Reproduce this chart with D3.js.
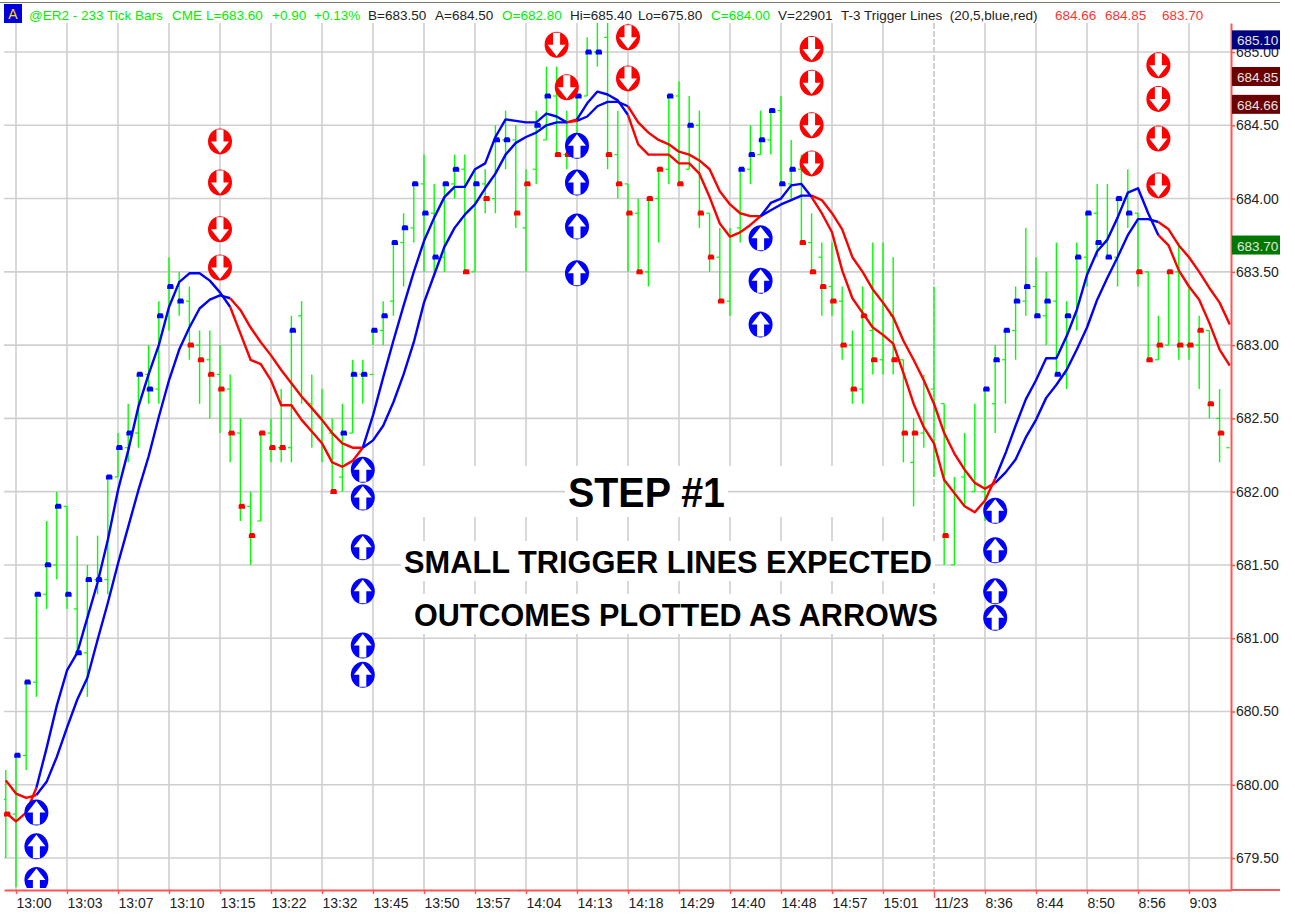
<!DOCTYPE html>
<html>
<head>
<meta charset="utf-8">
<script src="https://cdn.jsdelivr.net/npm/d3@7"></script>
<style>
  html, body { margin: 0; padding: 0; background: #fff; }
  svg { display: block; }
  text { font-family: "Liberation Sans", Arial, sans-serif; }
</style>
</head>
<body>
<div id="chart"></div>
<script>
/**
 * data, index = bar number
 */
var highs = [
  680.1, 680.2, 680.7, 681.3, 681.8, 682.0, 681.9, 681.7, 681.5, 681.7,
  682.1, 682.4, 682.6, 682.8, 683.0, 683.3, 683.6, 683.5, 683.4, 683.1,
  683.1, 683.0, 682.8, 682.5, 682.0, 682.4, 682.5, 682.7, 683.2, 683.3,
  682.8, 682.7, 682.5, 682.6, 682.9, 682.9, 683.1, 683.3, 683.7, 683.9,
  684.1, 684.3, 684.1, 684.1, 684.3, 684.3, 684.2, 684.2, 684.5, 684.6,
  684.5, 684.2, 684.6, 684.9, 684.9, 684.6, 684.7, 685.1, 685.2, 685.2,
  684.6, 684.1, 684.0, 684.0, 684.2, 684.7, 684.8, 684.7, 684.6, 683.9,
  683.8, 683.8, 684.2, 684.5, 684.6, 684.6, 684.7, 684.4, 684.3, 683.9,
  683.7, 683.7, 683.4, 683.1, 683.4, 683.7, 683.7, 683.6, 682.9, 682.5,
  682.8, 683.4, 682.6, 682.1, 682.4, 682.6, 682.7, 683.0, 683.1, 683.4,
  683.8, 683.6, 683.5, 683.7, 683.3, 683.7, 683.9, 684.1, 684.1, 684.0,
  684.2, 683.9, 683.5, 683.2, 683.5, 683.7, 683.4, 683.2, 683.1, 682.7
]
var lows = [
  679.5, 679.3, 680.1, 680.6, 681.2, 681.4, 681.2, 680.9, 680.6, 681.3,
  681.3, 682.1, 682.2, 682.3, 682.6, 682.6, 683.1, 683.2, 682.9, 682.6,
  682.5, 682.4, 682.2, 681.8, 681.5, 681.8, 682.2, 682.2, 682.2, 682.6,
  682.3, 682.2, 682.0, 682.0, 682.4, 682.6, 683.0, 683.0, 683.2, 683.4,
  683.7, 683.5, 683.5, 683.5, 684.0, 683.5, 683.5, 683.9, 683.9, 684.2,
  683.8, 683.5, 684.1, 684.4, 684.3, 684.2, 684.3, 684.7, 684.9, 684.2,
  684.0, 683.5, 683.5, 683.4, 683.7, 684.1, 684.1, 684.2, 683.8, 683.5,
  683.3, 683.2, 683.7, 684.1, 684.3, 684.3, 684.1, 684.0, 683.7, 683.5,
  683.2, 683.2, 682.9, 682.6, 682.6, 682.8, 682.8, 682.8, 682.2, 681.9,
  682.3, 682.1, 681.5, 681.5, 681.9, 682.0, 681.8, 682.4, 682.6, 682.9,
  683.2, 683.2, 683.0, 682.8, 682.7, 683.1, 683.4, 683.6, 683.6, 683.4,
  683.8, 683.4, 682.9, 682.9, 683.0, 682.9, 682.9, 682.7, 682.5, 682.2
]
// left tick of each bar, one more than the bars (last one sits on the axis)
var opens = [
  679.9, 679.8, 680.2, 680.7, 681.3, 681.5, 681.9, 681.2, 680.9, 681.4,
  681.4, 682.1, 682.3, 682.4, 682.8, 682.7, 683.2, 683.4, 683.3, 683.0,
  682.9, 682.8, 682.7, 682.4, 681.9, 681.8, 682.4, 682.3, 682.3, 683.2,
  682.6, 682.5, 682.4, 682.1, 682.4, 682.8, 682.8, 683.1, 683.3, 683.7,
  683.8, 684.1, 683.9, 683.6, 684.1, 684.2, 683.5, 684.1, 684.0, 684.4,
  684.4, 683.8, 684.2, 684.4, 684.7, 684.3, 684.3, 684.7, 685.0, 685.1,
  684.3, 684.1, 683.9, 683.5, 684.0, 684.2, 684.7, 684.2, 684.5, 683.9,
  683.6, 683.3, 683.8, 684.2, 684.3, 684.4, 684.6, 684.1, 684.2, 683.7,
  683.6, 683.4, 683.3, 683.0, 682.7, 683.1, 682.9, 683.2, 682.9, 682.2,
  682.4, 682.7, 682.6, 681.5, 682.1, 682.0, 682.0, 682.6, 682.9, 683.1,
  683.3, 683.4, 683.2, 683.3, 682.8, 683.2, 683.6, 683.9, 683.7, 683.6,
  684.0, 683.9, 683.5, 682.9, 683.0, 683.5, 683.0, 683.0, 683.1, 682.5,
  682.3
]
// null = no close marker on that bar
var closes = [
  679.8, 680.2, 680.7, 681.3, 681.5, 681.9, 681.3, 680.9, 681.4, 681.4,
  682.1, 682.3, 682.4, 682.8, 682.7, 683.2, 683.4, 683.3, 683.0, 682.9,
  682.8, 682.7, 682.4, 681.9, 681.7, 682.4, 682.3, 682.3, 683.1, null,
  null, null, 682.0, 682.4, 682.8, 682.8, 683.1, 683.2, 683.7, 683.8,
  684.1, 683.9, 683.6, 684.1, 684.2, 683.5, 684.1, 684.0, 684.4, 684.4,
  683.9, 684.1, 684.5, 684.7, 684.3, 684.3, 684.7, 685.0, 685.0, 684.3,
  684.1, 683.9, 683.5, 684.0, 684.2, 684.7, 684.1, 684.5, 683.9, 683.6,
  683.3, null, 684.2, 684.3, 684.4, 684.6, 684.1, 684.2, 683.7, 683.5,
  683.4, 683.3, 683.0, 682.7, 683.2, 682.9, null, 682.9, 682.4, 682.4,
  null, null, 681.7, null, null, null, 682.7, 682.9, 683.1, 683.3,
  683.4, 683.2, 683.3, 682.8, 683.2, 683.6, 683.9, 683.7, 683.6, 684.0,
  683.9, 683.5, 682.9, 683.0, 683.5, 683.0, 683.0, 683.1, 682.6, 682.4
]
// colour of the close marker, r / b, same order as closes
var closeSides = [
  'r', 'b', 'b', 'b', 'b', 'b', 'b', 'b', 'b', 'b',
  'b', 'b', 'b', 'b', 'b', 'b', 'b', 'b', 'r', 'r',
  'r', 'r', 'r', 'r', 'r', 'r', 'r', 'r', 'b', '',
  '', '', 'r', 'b', 'b', 'b', 'b', 'b', 'b', 'b',
  'b', 'b', 'b', 'b', 'b', 'r', 'b', 'r', 'b', 'b',
  'r', 'r', 'b', 'b', 'r', 'r', 'b', 'b', 'b', 'r',
  'r', 'r', 'r', 'r', 'r', 'b', 'r', 'b', 'r', 'r',
  'r', '', 'b', 'b', 'b', 'b', 'b', 'b', 'r', 'r',
  'r', 'r', 'r', 'r', 'r', 'r', '', 'r', 'r', 'r',
  '', '', 'r', '', '', '', 'b', 'b', 'b', 'b',
  'b', 'b', 'b', 'b', 'b', 'b', 'b', 'b', 'b', 'b',
  'b', 'r', 'r', 'r', 'r', 'r', 'r', 'r', 'r', 'r'
]
var fastLine = [
  679.81, 679.75, 679.81, 679.98, 680.25, 680.54, 680.78, 680.90, 681.14, 681.38,
  681.67, 682.01, 682.28, 682.58, 682.80, 683.00, 683.26, 683.43, 683.49, 683.49,
  683.44, 683.36, 683.26, 683.08, 682.90, 682.87, 682.76, 682.59, 682.59, 682.49,
  682.41, 682.33, 682.20, 682.17, 682.21, 682.30, 682.52, 682.78, 683.03, 683.27,
  683.50, 683.71, 683.87, 684.01, 684.08, 684.08, 684.20, 684.24, 684.42, 684.54,
  684.53, 684.52, 684.52, 684.58, 684.56, 684.52, 684.54, 684.65, 684.73, 684.71,
  684.67, 684.57, 684.37, 684.30, 684.30, 684.30, 684.24, 684.24, 684.17, 684.01,
  683.83, 683.74, 683.77, 683.82, 683.88, 683.97, 684.00, 684.09, 684.10, 684.01,
  683.90, 683.77, 683.51, 683.32, 683.22, 683.12, 683.07, 683.01, 682.81, 682.60,
  682.44, 682.33, 682.08, 681.99, 681.90, 681.86, 681.94, 682.09, 682.26, 682.45,
  682.63, 682.76, 682.91, 682.91, 683.06, 683.24, 683.48, 683.64, 683.72, 683.87,
  684.04, 684.07, 683.90, 683.75, 683.68, 683.51, 683.40, 683.31, 683.15, 682.97,
  682.86
]
var slowLine = [
  680.03, 679.94, 679.91, 679.93, 680.02, 680.19, 680.39, 680.58, 680.73, 680.99,
  681.24, 681.51, 681.76, 682.01, 682.24, 682.51, 682.76, 682.97, 683.12, 683.25,
  683.31, 683.34, 683.32, 683.24, 683.12, 683.02, 682.93, 682.83, 682.74, 682.65,
  682.57, 682.49, 682.40, 682.33, 682.30, 682.30, 682.35, 682.45, 682.61, 682.80,
  683.02, 683.29, 683.48, 683.67, 683.80, 683.89, 683.96, 684.07, 684.17, 684.30,
  684.38, 684.42, 684.45, 684.50, 684.52, 684.52, 684.53, 684.56, 684.63, 684.66,
  684.66, 684.63, 684.52, 684.45, 684.40, 684.37, 684.32, 684.30, 684.26, 684.20,
  684.05, 683.96, 683.90, 683.88, 683.88, 683.92, 683.96, 683.99, 684.02, 684.02,
  683.99, 683.90, 683.79, 683.60, 683.50, 683.38, 683.29, 683.19, 683.03, 682.90,
  682.76, 682.60, 682.40, 682.26, 682.15, 682.06, 682.02, 682.06, 682.13, 682.22,
  682.37, 682.49, 682.64, 682.73, 682.83, 682.97, 683.12, 683.31, 683.46, 683.60,
  683.75, 683.86, 683.86, 683.84, 683.79, 683.68, 683.60, 683.50, 683.39, 683.29,
  683.14
]
// bar numbers where the trigger lines change colour, first run is red
var trendFlips = [3, 22, 35, 55, 56, 61, 74, 79, 97, 113]

// arrows: bar number and price
var downArrowBars = [21, 21, 21, 21, 54, 55, 61, 61, 79, 79, 79, 79, 113, 113, 113, 113]
var downArrowPrices = [684.39, 684.11, 683.79, 683.53, 685.05, 684.76, 685.10, 684.82, 685.02, 684.79, 684.50, 684.24, 684.91, 684.68, 684.41, 684.09]
var upArrowBars = [3, 3, 3, 35, 35, 35, 35, 35, 35, 56, 56, 56, 56, 74, 74, 74, 97, 97, 97, 97]
var upArrowPrices = [679.81, 679.58, 679.35, 682.15, 681.96, 681.62, 681.32, 680.95, 680.75, 684.36, 684.11, 683.81, 683.49, 683.73, 683.44, 683.14, 681.87, 681.60, 681.32, 681.14]

var priceTicks = [685, 684.5, 684, 683.5, 683, 682.5, 682, 681.5, 681, 680.5, 680, 679.5]
var timeTicks = d3.range(1, 117, 5)
var timeLabels = ['13:00', '13:03', '13:07', '13:10', '13:15', '13:22', '13:32', '13:45', '13:50', '13:57', '14:04', '14:13', '14:18', '14:29', '14:40', '14:48', '14:57', '15:01', '11/23', '8:36', '8:44', '8:50', '8:56', '9:03']
var sessionBreakBar = 91

var tagValues = [685.10, 684.85, 684.66, 683.70]
var tagColors = ['#000080', '#6b0000', '#6b0000', '#007800']

var headerTexts = ['@ER2 - 233 Tick Bars', 'CME', 'L=683.60', '+0.90', '+0.13%', 'B=683.50', 'A=684.50', 'O=682.80', 'Hi=685.40', 'Lo=675.80', 'C=684.00', 'V=22901', 'T-3 Trigger Lines  (20,5,blue,red)', '684.66', '684.85', '683.70']
var headerX = [29, 172, 206, 272, 314, 368, 435, 502, 570, 638, 711, 778, 841, 1055, 1105, 1162]
var headerColors = ['#00ee00', '#00ee00', '#00ee00', '#00ee00', '#00ee00', '#222', '#222', '#00ee00', '#222', '#222', '#00ee00', '#222', '#222', '#ff3333', '#ff3333', '#ff3333']

/**
 * constants
 */
var width = 1295
var height = 919
var plotLeft = 4
var plotRight = 1231
var plotTop = 23
var plotBottom = 890
var pageRight = 1280

var gridColor = '#cfcfcf'
var axisColor = '#ff5555'
var barColor = '#00ff00'
var blue = '#0000ff'
var red = '#ff0000'

/**
 * scales
 */
var x = d3.scaleLinear()
  .domain([-0.176, 120.118])
  .range([plotLeft, plotRight])

var y = d3.scaleLinear()
  .domain([685.198, 679.282])
  .range([plotTop, plotBottom])

var svg = d3.select('#chart')
  .append('svg')
  .attr('width', width)
  .attr('height', height)

svg.append('defs')
  .append('clipPath')
  .attr('id', 'plotClip')
  .append('rect')
  .attr('x', plotLeft)
  .attr('y', plotTop)
  .attr('width', plotRight - plotLeft)
  .attr('height', plotBottom - plotTop - 2)

/**
 * grid
 */
svg.append('g')
  .selectAll('line')
  .data(timeTicks)
  .enter()
  .append('line')
  .attr('x1', d => x(d))
  .attr('x2', d => x(d))
  .attr('y1', plotTop)
  .attr('y2', plotBottom)
  .attr('stroke', d => d === sessionBreakBar ? '#b5b5b5' : gridColor)
  .attr('stroke-width', d => d === sessionBreakBar ? 1.2 : 1.6)
  .attr('stroke-dasharray', d => d === sessionBreakBar ? '6,2' : null)

// the note's white bands cut the vertical grid only
var noteBands = [[400, 466, 500, 51], [395, 541, 550, 40], [395, 594, 550, 40]]
svg.append('g')
  .selectAll('rect')
  .data(noteBands)
  .enter()
  .append('rect')
  .attr('x', d => d[0])
  .attr('y', d => d[1])
  .attr('width', d => d[2])
  .attr('height', d => d[3])
  .attr('fill', '#fff')

svg.append('g')
  .selectAll('line')
  .data(priceTicks)
  .enter()
  .append('line')
  .attr('x1', plotLeft)
  .attr('x2', plotRight)
  .attr('y1', d => y(d))
  .attr('y2', d => y(d))
  .attr('stroke', gridColor)
  .attr('stroke-width', 1.6)

/**
 * price bars
 */
var chartArea = svg.append('g').attr('clip-path', 'url(#plotClip)')

chartArea.append('g')
  .selectAll('line')
  .data(highs)
  .enter()
  .append('line')
  .attr('x1', (d, i) => x(i))
  .attr('x2', (d, i) => x(i))
  .attr('y1', d => y(d))
  .attr('y2', (d, i) => y(lows[i]))
  .attr('stroke', barColor)
  .attr('stroke-width', 1.4)

chartArea.append('g')
  .selectAll('line')
  .data(opens)
  .enter()
  .append('line')
  .attr('x1', (d, i) => x(i) - 3.4)
  .attr('x2', (d, i) => x(i))
  .attr('y1', d => y(d))
  .attr('y2', d => y(d))
  .attr('stroke', barColor)
  .attr('stroke-width', 1.2)

// close marker, small house shape right of the bar
function markerPath(cx, cy) {
  var p = d3.path()
  p.moveTo(cx - 3.2, cy + 2.4)
  p.lineTo(cx - 3.2, cy - 0.8)
  p.lineTo(cx - 2.2, cy - 2.6)
  p.lineTo(cx + 2.2, cy - 2.6)
  p.lineTo(cx + 3.2, cy - 0.8)
  p.lineTo(cx + 3.2, cy + 2.4)
  p.closePath()
  return p.toString()
}

chartArea.append('g')
  .selectAll('path')
  .data(closes.map((d, i) => ({ bar: i, price: d, side: closeSides[i] })).filter(d => d.price !== null))
  .enter()
  .append('path')
  .attr('d', d => markerPath(x(d.bar) + 1.4, y(d.price)))
  .attr('fill', d => d.side === 'b' ? blue : red)

/**
 * trigger lines, split into colour runs
 */
var runEdges = [0].concat(trendFlips, [fastLine.length - 1])
var runs = d3.pairs(runEdges).map((pair, i) => ({
  from: pair[0],
  to: pair[1],
  color: i % 2 === 0 ? red : blue,
}))

var lineGenerator = d3.line()
  .x(d => x(d.bar))
  .y(d => y(d.price))

function runPoints(values, run) {
  return d3.range(run.from, run.to + 1).map(i => ({ bar: i, price: values[i] }))
}

;[slowLine, fastLine].forEach(values => {
  chartArea.append('g')
    .selectAll('path')
    .data(runs)
    .enter()
    .append('path')
    .attr('d', run => lineGenerator(runPoints(values, run)))
    .attr('fill', 'none')
    .attr('stroke', run => run.color)
    .attr('stroke-width', 2.4)
    .attr('stroke-linejoin', 'round')
})

/**
 * arrows
 */
function arrowPath(dir) {
  // dir -1 points up, 1 points down
  var p = d3.path()
  p.moveTo(-3.5, -12 * dir)
  p.lineTo(-3.5, 0)
  p.lineTo(-9, 0)
  p.lineTo(0, 11.5 * dir)
  p.lineTo(9, 0)
  p.lineTo(3.5, 0)
  p.lineTo(3.5, -12 * dir)
  p.closePath()
  return p.toString()
}

function drawArrows(bars, prices, color, dir) {
  var arrows = chartArea.append('g')
    .selectAll('g')
    .data(bars.map((d, i) => ({ bar: d, price: prices[i] })))
    .enter()
    .append('g')
    .attr('transform', d => `translate(${x(d.bar)}, ${y(d.price)})`)

  arrows.append('ellipse')
    .attr('rx', 12)
    .attr('ry', 13)
    .attr('fill', color)

  arrows.append('path')
    .attr('d', arrowPath(dir))
    .attr('fill', '#fff')
}

drawArrows(downArrowBars, downArrowPrices, red, 1)
drawArrows(upArrowBars, upArrowPrices, blue, -1)

/**
 * axes
 */
var priceAxis = d3.axisRight(y)
  .tickValues(priceTicks)
  .tickFormat(d3.format('.2f'))
  .tickSize(4)
  .tickSizeOuter(0)
  .tickPadding(1)

var priceAxisG = svg.append('g')
  .attr('transform', `translate(${plotRight}, 0)`)
  .call(priceAxis)
priceAxisG.select('.domain').attr('stroke', axisColor).attr('stroke-width', 2)
priceAxisG.selectAll('.tick line').attr('stroke', axisColor).attr('stroke-width', 1.5)
priceAxisG.selectAll('text')
  .attr('font-size', 14)
  .attr('fill', '#222')
  .style('font-family', '"Liberation Sans", Arial, sans-serif')

var timeAxis = d3.axisBottom(x)
  .tickValues(timeTicks)
  .tickFormat((d, i) => timeLabels[i])
  .tickSize(4)
  .tickSizeOuter(0)
  .tickPadding(4)

var timeAxisG = svg.append('g')
  .attr('transform', `translate(0, ${plotBottom})`)
  .call(timeAxis)
timeAxisG.select('.domain').attr('stroke', axisColor).attr('stroke-width', 2)
timeAxisG.selectAll('.tick line')
  .attr('stroke', axisColor)
  .attr('stroke-width', 1.5)
  .attr('y2', d => d === sessionBreakBar ? 8 : 4)
timeAxisG.selectAll('text')
  .attr('font-size', 14)
  .attr('fill', '#222')
  .attr('text-anchor', 'start')
  .style('font-family', '"Liberation Sans", Arial, sans-serif')

// axis line carries on under the price labels
svg.append('line')
  .attr('x1', plotRight)
  .attr('x2', pageRight)
  .attr('y1', plotBottom)
  .attr('y2', plotBottom)
  .attr('stroke', axisColor)
  .attr('stroke-width', 2)

/**
 * last value tags on the right
 */
var tags = svg.append('g')
  .selectAll('g')
  .data(tagValues)
  .enter()
  .append('g')
  .attr('transform', d => `translate(${plotRight + 1}, ${y(d) - 7})`)

tags.append('rect')
  .attr('width', pageRight - plotRight - 1)
  .attr('height', 19)
  .attr('fill', (d, i) => tagColors[i])

tags.append('text')
  .text(d => d3.format('.2f')(d))
  .attr('x', 5)
  .attr('y', 15)
  .attr('font-size', 13.5)
  .attr('fill', '#e6e6e6')

/**
 * header strip
 */
svg.append('line')
  .attr('x1', 0)
  .attr('x2', pageRight)
  .attr('y1', 2.5)
  .attr('y2', 2.5)
  .attr('stroke', '#77776a')
  .attr('stroke-width', 1)

svg.append('rect')
  .attr('x', 4)
  .attr('y', 4)
  .attr('width', 18)
  .attr('height', 19)
  .attr('fill', '#0000dd')

svg.append('text')
  .text('A')
  .attr('x', 13)
  .attr('y', 19)
  .attr('text-anchor', 'middle')
  .attr('font-size', 14)
  .attr('fill', '#ffdd00')

svg.append('g')
  .selectAll('text')
  .data(headerTexts)
  .enter()
  .append('text')
  .text(d => d)
  .attr('x', (d, i) => headerX[i])
  .attr('y', 20)
  .attr('font-size', 13.5)
  .attr('fill', (d, i) => headerColors[i])
  .style('white-space', 'pre')

/**
 * note text with white backing
 */
var noteTexts = ['STEP #1', 'SMALL TRIGGER LINES EXPECTED', 'OUTCOMES PLOTTED AS ARROWS']
var noteX = [568, 404, 414]
var noteWidths = [157, 528, 524]
var noteBaselines = [507, 573, 626]
var noteSizes = [42, 32, 32]

var notes = svg.append('g')
  .selectAll('g')
  .data(noteTexts)
  .enter()
  .append('g')

notes.append('rect')
  .attr('x', (d, i) => noteX[i] - 3)
  .attr('y', (d, i) => noteBaselines[i] - noteSizes[i] * 0.76)
  .attr('width', (d, i) => noteWidths[i] + 6)
  .attr('height', (d, i) => noteSizes[i] * 0.82)
  .attr('fill', '#fff')

notes.append('text')
  .text(d => d)
  .attr('x', (d, i) => noteX[i])
  .attr('y', (d, i) => noteBaselines[i])
  .attr('font-size', (d, i) => noteSizes[i])
  .attr('font-weight', 'bold')
  .attr('fill', '#000')
  .attr('textLength', (d, i) => noteWidths[i])
  .attr('lengthAdjust', 'spacingAndGlyphs')
</script>
</body>
</html>
